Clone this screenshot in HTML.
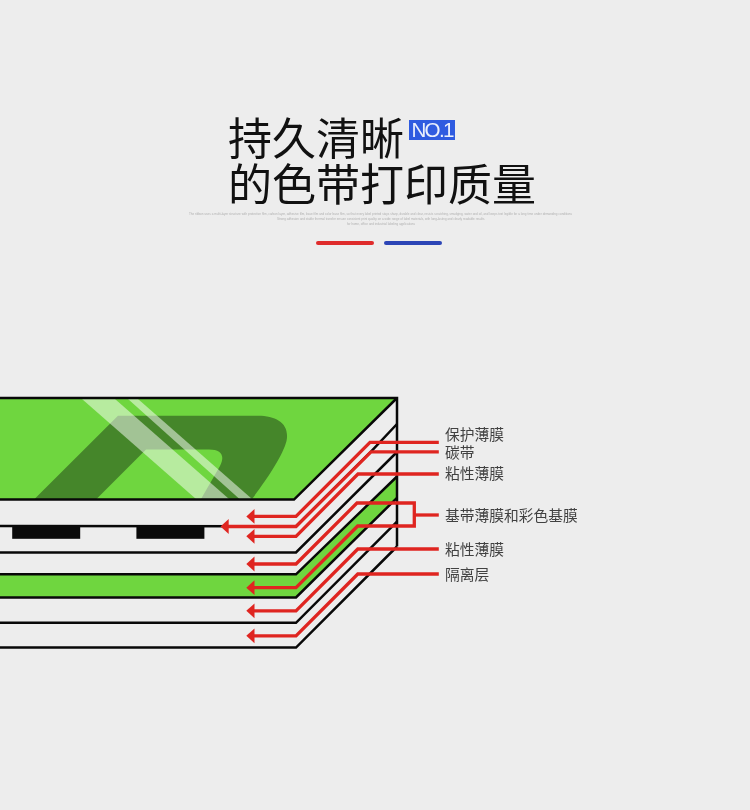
<!DOCTYPE html>
<html lang="zh-CN">
<head>
<meta charset="utf-8">
<title>持久清晰的色带打印质量</title>
<style>
html,body{margin:0;padding:0;}
body{width:750px;height:810px;background:#ededed;position:relative;overflow:hidden;
  font-family:"Liberation Sans","Noto Sans CJK SC",sans-serif;}
.title{will-change:transform;position:absolute;left:227.5px;top:117.3px;margin:0;font-size:44px;line-height:46px;font-weight:400;color:#111;white-space:nowrap;letter-spacing:0;}
.badge{will-change:transform;position:absolute;left:408.7px;top:120px;width:46px;height:19.5px;background:#2f5be0;color:rgba(255,255,255,.9);
  font-size:20.6px;line-height:19.6px;text-align:left;letter-spacing:-1.7px;text-indent:2.4px;font-weight:400;white-space:nowrap;overflow:hidden;}

.tiny{will-change:transform;position:absolute;font-size:3px;line-height:4.6px;height:4.6px;color:#b0b0b0;white-space:nowrap;text-align:justify;text-align-last:justify;overflow:hidden;}
.bar{position:absolute;top:240.5px;height:4px;border-radius:2px;}
.bar.r{left:316px;width:58px;background:#df2b2b;}
.bar.b{left:383.5px;width:58.5px;background:#2c45b6;}
.lab{will-change:transform;position:absolute;left:444.8px;font-size:14.75px;line-height:16px;color:#414141;white-space:nowrap;font-weight:400;}
svg{position:absolute;left:0;top:0;}
</style>
</head>
<body>
<h1 class="title">持久清晰<br>的色带打印质量</h1>
<div class="badge">NO.1</div>
<div class="tiny" style="left:189px;top:212.3px;width:383px">The ribbon uses a multi-layer structure with protective film, carbon layer, adhesive film, base film and color base film, so that every label printed stays sharp, durable and clear, resists scratching, smudging, water and oil, and keeps text legible for a long time under demanding conditions</div>
<div class="tiny" style="left:276.5px;top:216.6px;width:207.5px">Strong adhesion and stable thermal transfer ensure consistent print quality on a wide range of label materials, with long-lasting and clearly readable results</div>
<div class="tiny" style="left:347px;top:221.7px;width:68px">for home, office and industrial labeling applications</div>
<div class="bar r"></div><div class="bar b"></div>

<svg width="750" height="810" viewBox="0 0 750 810">
  <!-- top green layer -->
  <polygon points="-5,398 397,398 294,499.6 -5,499.6" fill="#6fd63f"/>
  <!-- dark logo shape -->
  <path d="M34.5,499 L118,415.8 L258,415.8 C277,415.8 290,424 286.5,441 C283,455 268,478 252,499 L201,499 L220,466 C225,456 222,449.4 209,449.4 L146,449.4 L96.5,499 Z" fill="#45862a"/>
  <!-- glass stripes -->
  <polygon points="82,399 115,399 229,499 196,499" fill="#ffffff" fill-opacity="0.5"/>
  <polygon points="128,399 138,399 252,499 239.5,499" fill="#ffffff" fill-opacity="0.5"/>
  <!-- middle green layer -->
  <polygon points="-5,574.3 296,574.3 397,476.5 397,497.8 296,597.5 -5,597.5" fill="#6fd63f"/>
  <!-- black outlines -->
  <g fill="none" stroke="#080808" stroke-width="2.5" stroke-linejoin="miter">
    <polyline points="-5,398 397,398 397,546.5"/>
    <polyline points="-5,499.6 294,499.6 397,398"/>
    <polyline points="-5,526 296,526.4 371,451.7 397,424"/>
    <polyline points="-5,552.4 296,552.4 397,452"/>
    <polyline points="-5,574.3 296,574.3 397,476.5"/>
    <polyline points="-5,597.5 296,597.5 397,497.8"/>
    <polyline points="-5,622.8 296,622.8 397,521.6"/>
    <polyline points="-5,647.6 296,647.6 397,546.5"/>
  </g>
  <!-- black blocks -->
  <rect x="12.2" y="525.5" width="68" height="13.3" fill="#0a0a0a"/>
  <rect x="136.4" y="525.5" width="68" height="13.3" fill="#0a0a0a"/>
  <!-- red arrows -->
  <g fill="none" stroke="#df2520" stroke-width="3.3" stroke-linejoin="miter">
    <polyline points="252,516.4 296,516.4 370,442.3 438.8,442.3"/>
    <polyline points="226,526.5 296,526.5 371,451.8 438.8,451.8"/>
    <polyline points="252,536.3 296,536.3 358,474 438.8,474"/>
    <polyline points="252,564 296,564 357,503 414.3,503 414.3,526 357.7,526 296,587.7 252,587.7"/>
    <polyline points="414.3,515 438.8,515"/>
    <polyline points="252,610.8 296,610.8 357.8,549 438.8,549"/>
    <polyline points="252,635.8 296,635.8 357.8,574 438.8,574"/>
  </g>
  <g fill="#df2520">
    <polygon points="246.3,516.4 254.5,509 254.5,523.8"/>
    <polygon points="220.5,526.5 228.7,519.1 228.7,533.9"/>
    <polygon points="246.3,536.3 254.5,528.9 254.5,543.7"/>
    <polygon points="246.3,564 254.5,556.6 254.5,571.4"/>
    <polygon points="246.3,587.7 254.5,580.3 254.5,595.1"/>
    <polygon points="246.3,610.8 254.5,603.4 254.5,618.2"/>
    <polygon points="246.3,635.8 254.5,628.4 254.5,643.2"/>
  </g>
</svg>

<div class="lab" style="top:427px">保护薄膜</div>
<div class="lab" style="top:445px">碳带</div>
<div class="lab" style="top:465.5px">粘性薄膜</div>
<div class="lab" style="top:507.5px">基带薄膜和彩色基膜</div>
<div class="lab" style="top:541.5px">粘性薄膜</div>
<div class="lab" style="top:566.5px">隔离层</div>
</body>
</html>
